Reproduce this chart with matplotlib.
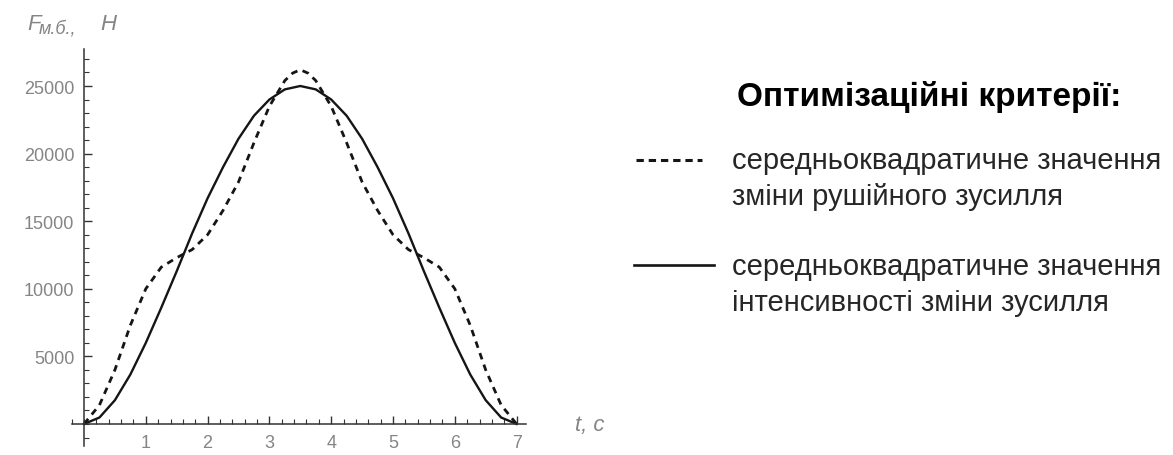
import numpy as np
import matplotlib
matplotlib.use("Agg")
import matplotlib.pyplot as plt
from matplotlib.lines import Line2D
from matplotlib.ticker import MultipleLocator, FixedLocator

plt.rcParams['font.family'] = ['Liberation Sans', 'DejaVu Sans']

# time, s (dashed curve read a little denser round its peak)
t_change = [0, 0.25, 0.5, 0.75, 1.0, 1.25, 1.5, 1.75, 2.0, 2.25, 2.5, 2.75, 3.0, 3.25, 3.375, 3.5,
            3.625, 3.75, 4.0, 4.25, 4.5, 4.75, 5.0, 5.25, 5.5, 5.75, 6.0, 6.25, 6.5, 6.75, 7.0]
# RMS of driving force change (dashed)
force_rms_change = [0, 1400, 4000, 7300, 10000, 11600, 12300, 12900, 14000, 15800, 17900, 20800, 23500, 25400, 25950, 26200,
                    25950, 25400, 23500, 20800, 17900, 15800, 14000, 12900, 12300, 11600, 10000, 7300, 4000, 1400, 0]

t_rate = [0, 0.25, 0.5, 0.75, 1.0, 1.25, 1.5, 1.75, 2.0, 2.25, 2.5, 2.75, 3.0, 3.25, 3.5,
          3.75, 4.0, 4.25, 4.5, 4.75, 5.0, 5.25, 5.5, 5.75, 6.0, 6.25, 6.5, 6.75, 7.0]
# RMS of force change intensity (solid)
force_rms_rate = [0, 480, 1760, 3660, 6000, 8600, 11300, 14100, 16700, 19000, 21100, 22800, 24000, 24750, 25000,
                  24750, 24000, 22800, 21100, 19000, 16700, 14100, 11300, 8600, 6000, 3660, 1760, 480, 0]

x_ticks = [1, 2, 3, 4, 5, 6, 7]
y_ticks = [5000, 10000, 15000, 20000, 25000]

legend_title = "Оптимізаційні критерії:"
legend_dashed = ["середньоквадратичне значення", "зміни рушійного зусилля"]
legend_solid = ["середньоквадратичне значення", "інтенсивності зміни зусилля"]

W, H = 1173, 456
fig = plt.figure(figsize=(W / 100, H / 100), dpi=100)

# axes placed in pixels: x 0 -> 84 px, 61.8 px per second; y 0 -> 425 px, 67.6 px per 5000
x0, px_x = 84, 61.8
y0, px_y = 425, 67.6 / 5000
xlim = (-0.2, 7.15)
ylim = (-1600, 27700)
left = x0 + xlim[0] * px_x
right = x0 + xlim[1] * px_x
bottom = y0 - ylim[0] * px_y
top = y0 - ylim[1] * px_y
ax = fig.add_axes([left / W, 1 - bottom / H, (right - left) / W, (bottom - top) / H])
ax.set_xlim(*xlim)
ax.set_ylim(*ylim)
ax.patch.set_alpha(0)

line_color = "#151515"
ax.plot(t_change, force_rms_change, color=line_color, lw=2.0, linestyle=(0, (2.4, 2.0)))
ax.plot(t_rate, force_rms_rate, color=line_color, lw=1.7)

for s in ["top", "right"]:
    ax.spines[s].set_visible(False)
for s in ["left", "bottom"]:
    ax.spines[s].set_position(("data", 0))
    ax.spines[s].set_color("#333333")
    ax.spines[s].set_linewidth(1.1)

ax.xaxis.set_major_locator(FixedLocator(x_ticks))
ax.yaxis.set_major_locator(FixedLocator(y_ticks))
ax.xaxis.set_minor_locator(MultipleLocator(0.2))
ax.yaxis.set_minor_locator(MultipleLocator(1000))
ax.tick_params(which="both", direction="in", color="#333333", labelcolor="#858585", labelsize=13)
ax.tick_params(which="major", length=6, width=1.0, pad=7)
ax.tick_params(which="minor", length=3.5, width=0.8)

# axis labels, Mathematica style
label_color = "#858585"
fig.text(27 / W, 1 - 30 / H, "F", fontsize=16, style="italic", color=label_color, va="baseline")
fig.text(39 / W, 1 - 33 / H, "м.б.,", fontsize=13, style="italic", color=label_color, va="baseline")
fig.text(100 / W, 1 - 30 / H, "H", fontsize=16, style="italic", color=label_color, va="baseline")
fig.text(575 / W, 1 - 431 / H, "t, c", fontsize=16, style="italic", color=label_color, va="baseline")

# legend drawn by hand at the right
text_color = "#262626"
fig.text(737 / W, 1 - 97 / H, legend_title, fontsize=24, fontweight="bold", color="black", va="center")
fig.add_artist(Line2D([636 / W, 702 / W], [1 - 161 / H, 1 - 161 / H], color=line_color, lw=2.2,
                      linestyle=(0, (2.4, 1.6)), transform=fig.transFigure))
fig.add_artist(Line2D([634 / W, 714 / W], [1 - 266 / H, 1 - 266 / H], color=line_color, lw=1.9,
                      transform=fig.transFigure))
for i, line in enumerate(legend_dashed):
    fig.text(732 / W, 1 - (161 + 36 * i) / H, line, fontsize=21, color=text_color, va="center")
for i, line in enumerate(legend_solid):
    fig.text(732 / W, 1 - (267 + 36 * i) / H, line, fontsize=21, color=text_color, va="center")

fig.savefig("out.png", dpi=100)
